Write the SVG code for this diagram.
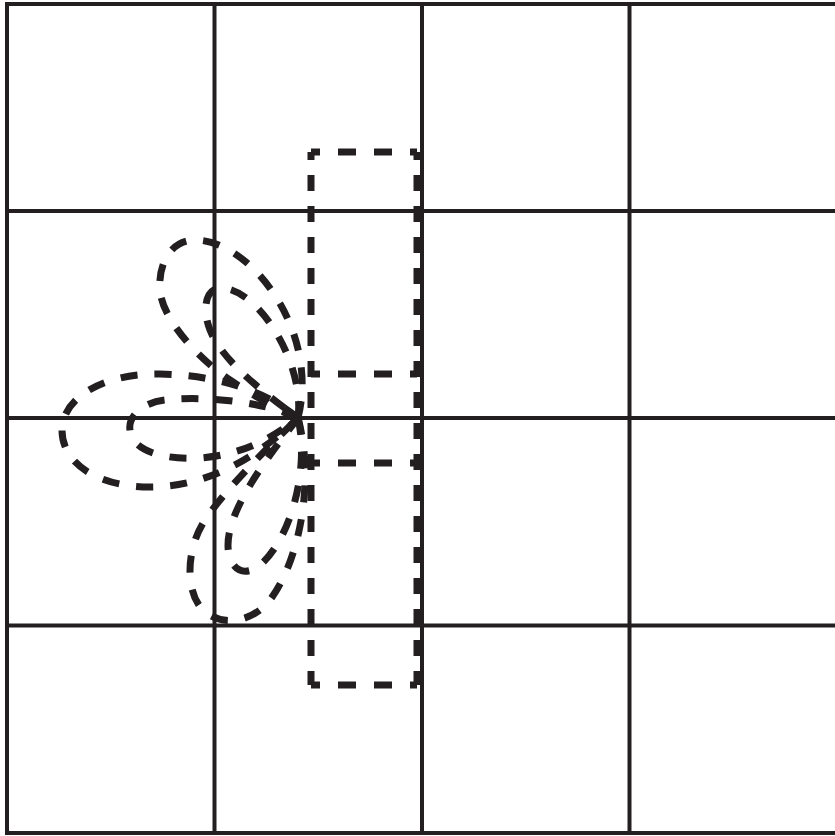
<svg xmlns="http://www.w3.org/2000/svg" width="835" height="836" viewBox="0 0 835 836">
<style>
.grid{stroke:#231f20;stroke-width:4;fill:none}
.hd{stroke:#231f20;stroke-width:7;fill:none;stroke-dasharray:18 18;stroke-dashoffset:9}
.vd{stroke:#231f20;stroke-width:7;fill:none;stroke-dasharray:16 15;stroke-dashoffset:8}
.lobe{stroke:#231f20;stroke-width:7;fill:none;stroke-dasharray:17 17;stroke-linejoin:round}
</style>
<rect width="835" height="836" fill="#ffffff"/>
<g id="grid">
<rect class="grid" x="7" y="4" width="830" height="829"/>
<line class="grid" x1="214.5" y1="4" x2="214.5" y2="833"/>
<line class="grid" x1="422" y1="4" x2="422" y2="833"/>
<line class="grid" x1="629.5" y1="4" x2="629.5" y2="833"/>
<line class="grid" x1="7" y1="211" x2="837" y2="211"/>
<line class="grid" x1="7" y1="418" x2="837" y2="418"/>
<line class="grid" x1="7" y1="625.5" x2="837" y2="625.5"/>
</g>
<g id="strip">
<line class="hd" x1="311" y1="152" x2="417" y2="152"/>
<line class="hd" x1="311" y1="374" x2="417" y2="374"/>
<line class="hd" x1="311" y1="463" x2="417" y2="463"/>
<line class="hd" x1="311" y1="685" x2="417" y2="685"/>
<line class="vd" x1="311" y1="152" x2="311" y2="685"/>
<line class="vd" x1="417" y1="152" x2="417" y2="685"/>
</g>
<g id="lobes">
<path id="upper-outer" class="lobe" d="M298,418 C320,330 250,240 195,240 C170,240 158,265 160,290 C162,320 200,360 230,380 C255,397 280,410 298,418"/>
<path id="upper-inner" class="lobe" d="M298,418 C305,365 260,290 222,288 C205,287 202,310 210,330 C222,360 260,390 298,418"/>
<path id="left-outer" class="lobe" d="M298,418 C265,390 215,375 160,374 C100,373 62,400 62,430 C62,465 100,487 150,487 C210,487 260,455 298,418"/>
<path id="left-inner" class="lobe" d="M298,418 C260,400 200,396 165,400 C140,403 128,418 130,430 C132,450 160,460 200,458 C240,455 270,440 298,418"/>
<path id="lower-outer" class="lobe" d="M298,418 C315,480 300,560 270,600 C255,620 225,628 205,612 C185,595 185,550 205,520 C225,490 270,445 298,418"/>
<path id="lower-inner" class="lobe" d="M298,418 C310,470 290,540 260,565 C245,578 228,570 228,545 C228,510 265,460 298,418"/>
</g>
</svg>
